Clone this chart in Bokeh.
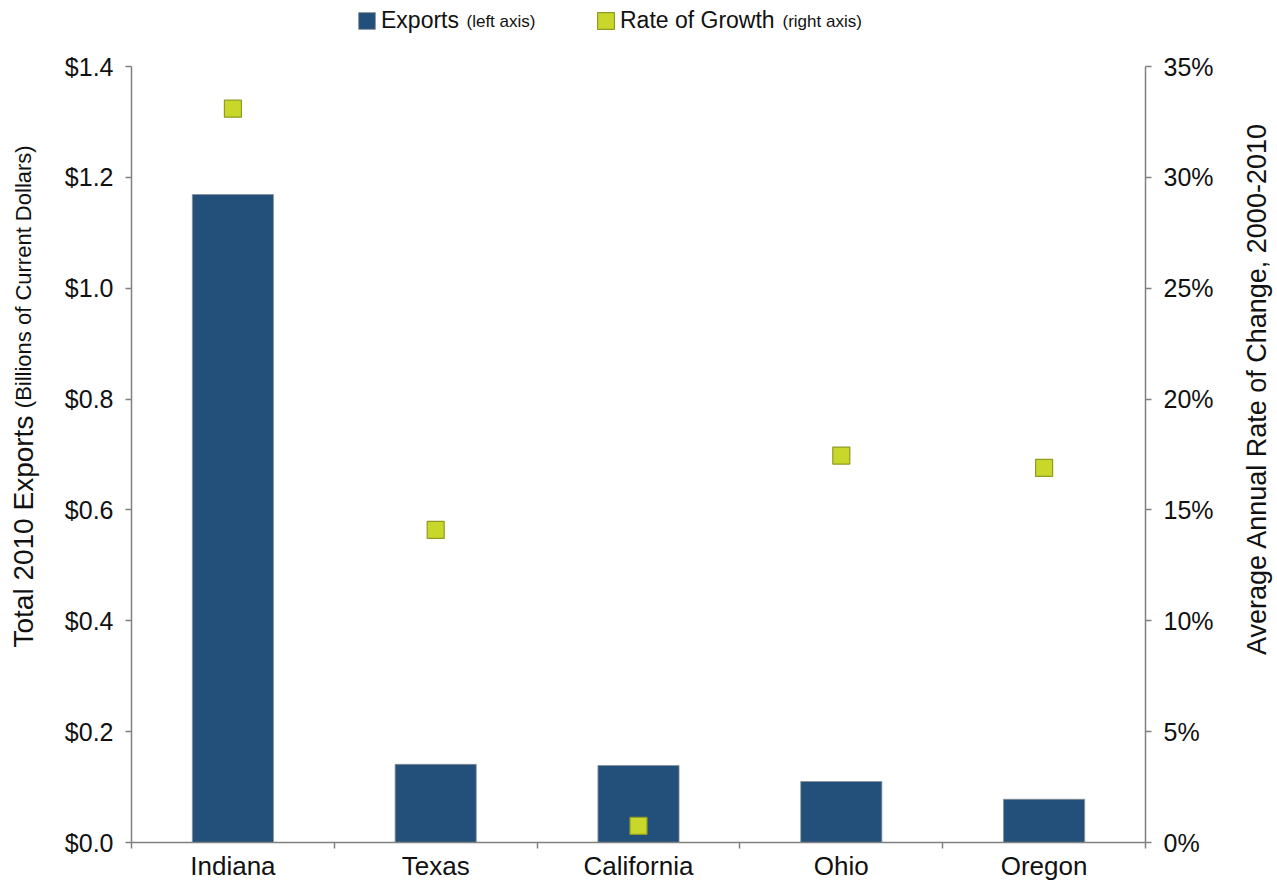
import math
from bokeh.plotting import figure
from bokeh.layouts import column, row
from bokeh.models import (Range1d, LinearAxis, FixedTicker, NumeralTickFormatter,
                          Legend, LegendItem, ColumnDataSource)
from bokeh.core.properties import value
from bokeh.embed import file_html
from bokeh.resources import INLINE

states = ["Indiana", "Texas", "California", "Ohio", "Oregon"]
exports = [1.169, 0.141, 0.139, 0.110, 0.078]          # billions of current dollars
growth = [0.331, 0.141, 0.0075, 0.1745, 0.169]          # average annual rate of change
left_ticks = [0.0, 0.2, 0.4, 0.6, 0.8, 1.0, 1.2, 1.4]
right_ticks = [0.0, 0.05, 0.10, 0.15, 0.20, 0.25, 0.30, 0.35]

FONT = "Liberation Sans"
BAR = "#22507A"
BAR_LINE = "#8a8f96"
MARK = "#C8D72A"
MARK_LINE = "#8E9C22"
AXIS = "#808080"
TXT = "#111111"
NAN = float("nan")


def blank(width, height):
    f = figure(width=width, height=height, output_backend="svg", toolbar_location=None,
               x_range=Range1d(0, width), y_range=Range1d(0, height),
               min_border=0, x_axis_location=None, y_axis_location=None)
    f.outline_line_color = None
    f.xgrid.visible = False
    f.ygrid.visible = False
    return f


# ---------------- main chart ----------------
xpos = [i + 0.5 for i in range(len(states))]
src = ColumnDataSource(dict(x=xpos, exports=exports, growth=growth, state=states))

p = figure(width=1187, height=838, output_backend="svg", toolbar_location=None,
           x_range=Range1d(0, len(states)), y_range=Range1d(0, 1.4),
           min_border_left=86, min_border_right=87, min_border_top=21,
           min_border_bottom=41, y_axis_location=None, x_axis_location=None)
p.outline_line_color = None
p.xgrid.visible = False
p.ygrid.visible = False
p.extra_y_ranges = {"right": Range1d(0, 0.35)}

p.vbar(x="x", top="exports", width=0.4, source=src, fill_color=BAR,
       line_color=BAR_LINE, line_width=0.8)
p.scatter(x="x", y="growth", source=src, y_range_name="right", marker="square",
          size=17, fill_color=MARK, line_color=MARK_LINE, line_width=1.2)


def style_axis(ax, size):
    ax.axis_line_color = AXIS
    ax.axis_line_width = 1.5
    ax.major_tick_line_color = AXIS
    ax.major_tick_line_width = 1.5
    ax.minor_tick_line_color = AXIS
    ax.minor_tick_line_width = 1.5
    ax.major_label_text_font = FONT
    ax.major_label_text_font_size = size
    ax.major_label_text_color = TXT


yl = LinearAxis(ticker=FixedTicker(ticks=left_ticks, minor_ticks=[]),
                formatter=NumeralTickFormatter(format="$0.0"))
style_axis(yl, "25px")
yl.major_tick_out = 6
yl.major_tick_in = 0
yl.major_label_standoff = 12
p.add_layout(yl, "left")

yr = LinearAxis(y_range_name="right", ticker=FixedTicker(ticks=right_ticks, minor_ticks=[]),
                formatter=NumeralTickFormatter(format="0%"))
style_axis(yr, "25px")
yr.major_tick_out = 6
yr.major_tick_in = 0
yr.major_label_standoff = 12
p.add_layout(yr, "right")

xa = LinearAxis(ticker=FixedTicker(ticks=xpos, minor_ticks=list(range(len(states) + 1))))
style_axis(xa, "26px")
xa.major_label_overrides = {x: s for x, s in zip(xpos, states)}
xa.major_tick_line_color = None
xa.major_tick_out = 6
xa.major_tick_in = 0
xa.minor_tick_out = 6
xa.minor_tick_in = 0
xa.major_label_standoff = 2
p.add_layout(xa, "below")

# ---------------- left axis title ----------------
lf = blank(45, 838)
lf.text(x=[23], y=[461], text=["Total 2010 Exports"], angle=math.pi / 2,
        text_font=value(FONT), text_font_size="28px", text_color=TXT,
        text_align="right", text_baseline="middle")
lf.text(x=[23], y=[469], text=["(Billions of Current Dollars)"], angle=math.pi / 2,
        text_font=value(FONT), text_font_size="22px", text_color=TXT,
        text_align="left", text_baseline="middle")

# ---------------- right axis title ----------------
rf = blank(45, 838)
rf.text(x=[24], y=[490], text=["Average Annual Rate of Change, 2000-2010"],
        angle=math.pi / 2, text_font=value(FONT), text_font_size="27px",
        text_color=TXT, text_align="center", text_baseline="middle")

# ---------------- legend strip ----------------
tf = blank(1277, 45)
r_bar = tf.vbar(x=[NAN], top=[NAN], width=1, fill_color=BAR, line_color=BAR_LINE,
                line_width=0.8)
r_mark = tf.vbar(x=[NAN], top=[NAN], width=1, fill_color=MARK, line_color=MARK_LINE,
                 line_width=1.2)
legend = Legend(items=[LegendItem(label="Exports", renderers=[r_bar]),
                       LegendItem(label="Rate of Growth", renderers=[r_mark])],
                orientation="horizontal", location=(356, 11),
                label_text_font=FONT, label_text_font_size="23px",
                label_text_color=TXT, glyph_width=21, glyph_height=21,
                label_standoff=4, spacing=136, padding=0, margin=0,
                border_line_color=None, background_fill_alpha=0)
tf.add_layout(legend, "center")
tf.text(x=[466, 782], y=[24, 24], text=["(left axis)", "(right axis)"],
        text_font=value(FONT), text_font_size="17px", text_color=TXT,
        text_align="left", text_baseline="middle")

layout = column(tf, row(lf, p, rf, spacing=0), spacing=0)
open("out.html", "w").write(file_html(layout, INLINE))
